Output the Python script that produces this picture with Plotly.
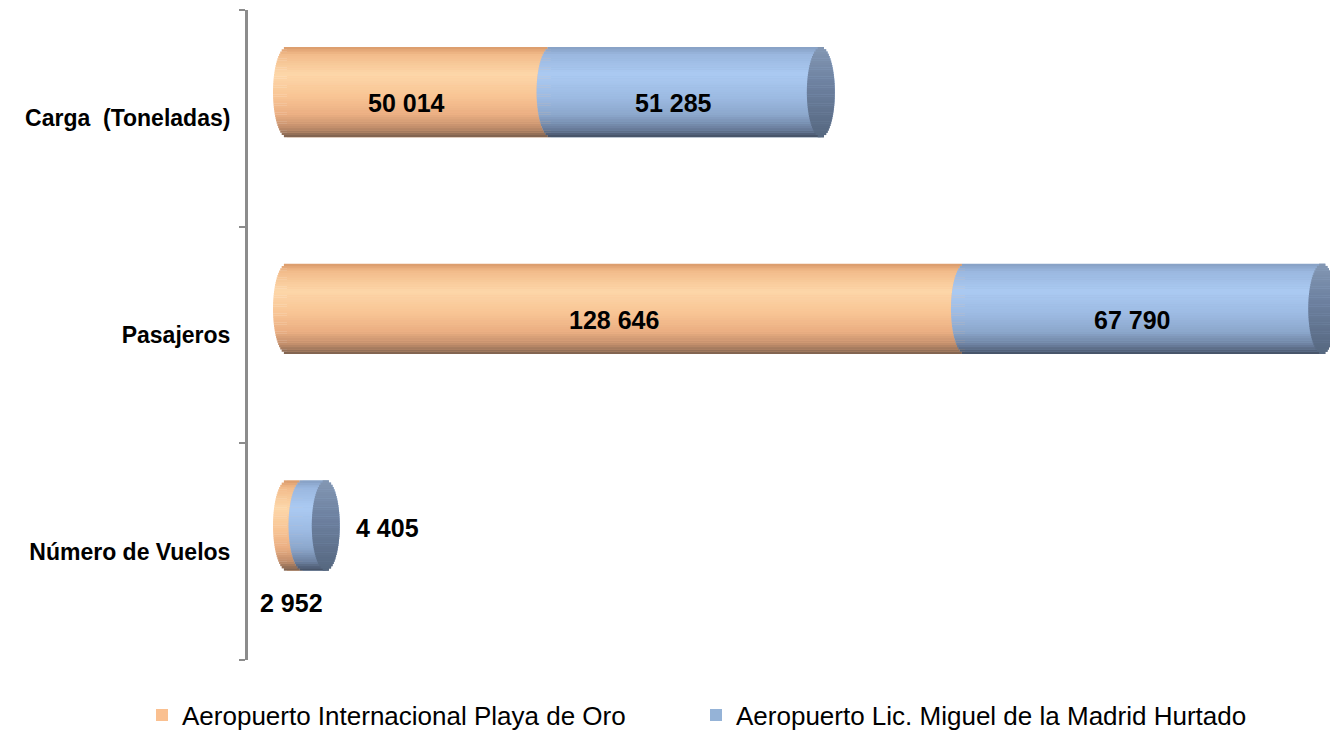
import numpy as np
import plotly.graph_objects as go

# Datos
categorias = ["Número de Vuelos", "Pasajeros", "Carga  (Toneladas)"]
playa_de_oro = [2952, 128646, 50014]
madrid_hurtado = [4405, 67790, 51285]
nombres = ["Aeropuerto Internacional Playa de Oro",
           "Aeropuerto Lic. Miguel de la Madrid Hurtado"]

# Lienzo y escalas (la pagina tiene 8 px de margen propio)
W, H = 1330, 722
M = dict(l=240, r=0, t=2, b=70, autoexpand=False)
plot_w = W - M["l"] - M["r"]
plot_h = H - M["t"] - M["b"]
x_rango = [-7400, 199430]
ux = (x_rango[1] - x_rango[0]) / plot_w   # unidades por pixel en x
uy = 3 / plot_h                           # categorias por pixel en y

grosor = 90 * uy      # alto del cilindro
desp = 26 * uy        # desplazamiento 3D hacia arriba
a = 14 * ux           # semieje de la elipse de las tapas
N = 40                # rebanadas para el degradado

naranja = [(0, "#d99a6a"), (0.08, "#f2bb8a"), (0.3, "#fdd7a9"), (0.55, "#f8c494"),
           (0.75, "#eaae82"), (0.9, "#bf8c6a"), (1, "#7a5f4d")]
azul = [(0, "#869fc2"), (0.08, "#9ab7df"), (0.3, "#abcaf2"), (0.55, "#9dbbe3"),
        (0.75, "#8ca7cc"), (0.9, "#6c809f"), (1, "#434f63")]
tapa = [(0, "#8397b3"), (0.4, "#6d81a0"), (1, "#56677f")]


def color(stops, t):
    for (t0, c0), (t1, c1) in zip(stops[:-1], stops[1:]):
        if t <= t1:
            f = (t - t0) / (t1 - t0)
            a0 = [int(c0[k:k + 2], 16) for k in (1, 3, 5)]
            a1 = [int(c1[k:k + 2], 16) for k in (1, 3, 5)]
            return "rgb(%d,%d,%d)" % tuple(round(p + (q - p) * f) for p, q in zip(a0, a1))
    return stops[-1][1]


def rebanadas(base_fn, largo_fn, stops):
    ys, xs, bs, offs, cols = [], [], [], [], []
    h = grosor / N
    for i, cat in enumerate(categorias):
        for j in range(N):
            u = (j + 0.5) / N * 2 - 1
            s = np.sqrt(1 - u * u)
            ys.append(cat)
            bs.append(base_fn(i, s))
            xs.append(largo_fn(i, s))
            offs.append(desp - grosor / 2 + j * h)
            cols.append(color(stops, 1 - (j + 0.5) / N))
    return go.Bar(y=ys, x=xs, base=bs, offset=offs, width=[h * 1.15] * len(ys),
                  orientation="h", marker=dict(color=cols, line=dict(width=0)),
                  showlegend=False, hoverinfo="skip")


total = [p + m for p, m in zip(playa_de_oro, madrid_hurtado)]

fig = go.Figure()
# barras base (sirven para la leyenda)
fig.add_trace(go.Bar(y=categorias, x=playa_de_oro, base=[0] * 3, orientation="h", name=nombres[0],
                     offset=desp - grosor / 2, width=grosor, marker=dict(color="#fac090", line=dict(width=0))))
fig.add_trace(go.Bar(y=categorias, x=madrid_hurtado, base=playa_de_oro, orientation="h", name=nombres[1],
                     offset=desp - grosor / 2, width=grosor, marker=dict(color="#95b3d7", line=dict(width=0))))
# cuerpo cilindrico
fig.add_trace(rebanadas(lambda i, s: -a * s, lambda i, s: playa_de_oro[i], naranja))
fig.add_trace(rebanadas(lambda i, s: playa_de_oro[i] - a * s, lambda i, s: madrid_hurtado[i] + 2 * a * s, azul))
fig.add_trace(rebanadas(lambda i, s: total[i] - a * s, lambda i, s: 2 * a * s, tapa))

# etiquetas de datos
ajustes = {(0, 0): (-3, -51), (0, 1): (73, 24)}
for i in range(3):
    for k, (x, v) in enumerate([(playa_de_oro[i] / 2, playa_de_oro[i]),
                                (playa_de_oro[i] + madrid_hurtado[i] / 2, madrid_hurtado[i])]):
        xs, ys = ajustes.get((i, k), (-12, 15))
        fig.add_annotation(x=x, y=i, xref="x", yref="y", text="<b>" + f"{v:,}".replace(",", " ") + "</b>",
                           showarrow=False, xshift=xs, yshift=ys,
                           font=dict(size=25, color="black", family="Liberation Sans, Arial"))

fig.update_layout(
    width=W, height=H, margin=M, barmode="overlay",
    plot_bgcolor="white", paper_bgcolor="white",
    font=dict(family="Liberation Sans, Arial", color="black"),
    hovermode=False,
    xaxis=dict(range=x_rango, visible=False),
    yaxis=dict(type="category", categoryorder="array", categoryarray=categorias,
               range=[-0.5, 2.5], tickson="boundaries", ticks="outside", ticklen=6,
               tickwidth=2, tickcolor="#8c8c8c", showline=True, linewidth=3,
               linecolor="#8c8c8c", showgrid=False, zeroline=False, ticklabelstandoff=10,
               automargin=False,
               tickfont=dict(size=23, family="Liberation Sans, Arial", color="black")),
    legend=dict(orientation="h", x=(134 - M["l"]) / plot_w, xanchor="left",
                y=-55 / plot_h, yanchor="middle", entrywidth=509,
                font=dict(size=26, family="Liberation Sans, Arial")),
)
fig.update_yaxes(tickprefix="<b>", ticksuffix="</b>")
fig.write_html("out.html")
